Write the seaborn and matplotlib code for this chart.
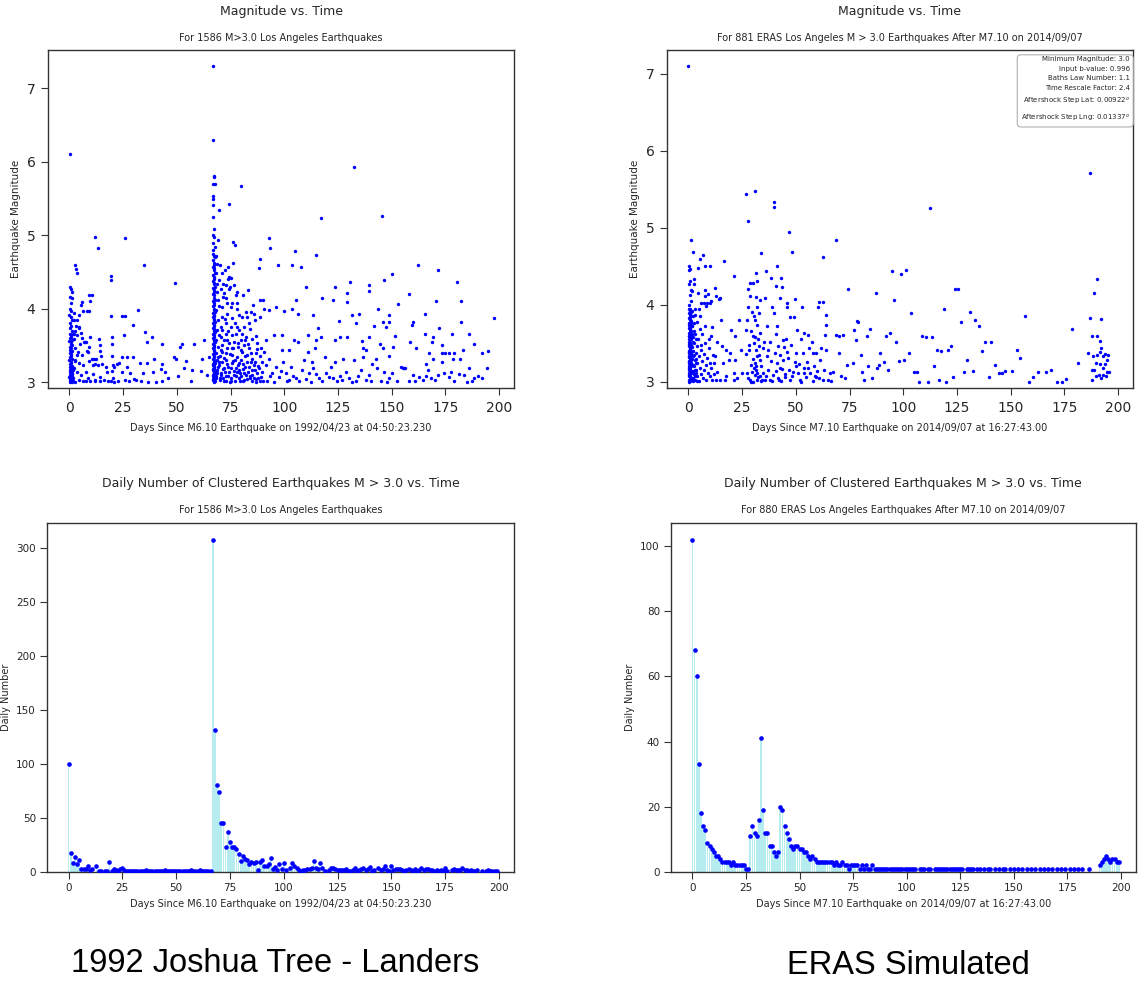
import matplotlib
matplotlib.use("Agg")
import matplotlib.pyplot as plt
import seaborn as sns
import pandas as pd

# ---------------- data ----------------
# Top-left: (days since M6.10, magnitude) for the 1992 Landers sequence
la_day0 = [(0.4, 6.10), (0.1, 4.30), (0.6, 4.27), (1.3, 4.22), (0.2, 4.16), (1.0, 4.14), (0.7, 4.07),
           (0.3, 4.00), (0.9, 3.97), (0.0, 3.92), (0.5, 3.88), (1.1, 3.84), (0.2, 3.80), (0.8, 3.77),
           (0.4, 3.73), (1.2, 3.70), (0.1, 3.66), (0.6, 3.64), (0.9, 3.62), (0.3, 3.60), (1.4, 3.58),
           (0.0, 3.56), (0.7, 3.54), (0.5, 3.52), (1.0, 3.50), (0.2, 3.48), (0.8, 3.46), (0.4, 3.44),
           (1.3, 3.42), (0.1, 3.40), (0.6, 3.38), (0.9, 3.36), (0.3, 3.34), (1.1, 3.32), (0.0, 3.30),
           (0.5, 3.28), (0.8, 3.26), (0.2, 3.24), (1.2, 3.22), (0.4, 3.20), (0.7, 3.19), (1.0, 3.18),
           (0.1, 3.16), (0.6, 3.15), (0.3, 3.14), (0.9, 3.12), (1.4, 3.11), (0.2, 3.10), (0.5, 3.09),
           (0.8, 3.08), (0.0, 3.07), (1.1, 3.06), (0.4, 3.05), (0.7, 3.04), (0.3, 3.03), (1.0, 3.02),
           (0.6, 3.01), (0.1, 3.00), (1.3, 3.00), (0.9, 3.02), (1.5, 3.05), (1.2, 3.08), (1.4, 3.12),
           (1.5, 3.17)]
la_early = [(2.8, 4.60), (3.1, 4.54), (3.6, 4.48), (9.0, 4.18), (10.6, 4.19), (9.6, 4.10), (5.7, 4.09),
            (5.3, 4.05), (6.5, 3.97), (8.1, 3.97), (9.3, 3.97), (2.3, 3.94), (4.3, 3.91), (19.3, 3.90),
            (24.6, 3.90), (25.8, 3.90), (2.3, 3.84), (3.1, 3.77), (4.3, 3.74), (2.6, 3.70), (1.7, 3.66),
            (3.4, 3.64), (5.4, 3.67), (7.0, 3.55), (9.6, 3.61), (13.7, 3.59), (14.1, 3.51), (19.7, 3.62),
            (19.9, 3.52), (25.2, 3.64), (2.2, 3.59), (4.7, 3.52), (2.8, 3.46), (3.9, 3.41), (5.9, 3.37),
            (8.1, 3.43), (11.2, 3.32), (12.4, 3.31), (14.1, 3.42), (14.6, 3.35), (19.9, 3.36), (24.6, 3.34),
            (26.6, 3.34), (29.5, 3.34), (2.5, 3.29), (4.3, 3.26), (6.2, 3.23), (9.3, 3.29), (10.3, 3.31),
            (11.0, 3.23), (12.0, 3.25), (13.4, 3.23), (15.2, 3.24), (17.1, 3.21), (20.2, 3.23), (20.8, 3.21),
            (22.2, 3.25), (22.9, 3.26), (26.6, 3.20), (2.3, 3.19), (3.4, 3.14), (5.4, 3.10), (7.5, 3.14),
            (8.7, 3.05), (10.9, 3.11), (11.7, 3.03), (14.0, 3.07), (16.2, 3.03), (17.6, 3.14), (19.9, 3.15),
            (17.8, 3.01), (20.2, 3.05), (22.6, 3.02), (24.6, 3.14), (25.7, 3.03), (1.6, 3.02), (2.8, 3.00),
            (4.3, 3.03), (6.2, 3.02), (7.8, 3.01), (9.6, 3.02), (11.7, 3.01), (14.0, 3.01), (19.3, 3.02),
            (20.8, 3.00), (12.1, 4.98), (13.2, 4.83), (25.8, 4.96), (19.3, 4.44), (19.3, 4.39), (8.4, 3.41),
            (7.6, 3.54), (6.7, 3.54), (4.4, 3.75), (3.6, 3.84), (5.9, 3.60), (2.0, 3.66), (9.0, 3.48),
            (2.5, 3.30), (3.3, 3.37)]
la_quiet = [(34.8, 4.60), (49.1, 4.35), (31.9, 3.98), (29.7, 3.78), (35.1, 3.68), (38.5, 3.62), (36.2, 3.54),
            (43.2, 3.52), (52.5, 3.52), (51.3, 3.48), (58.1, 3.52), (62.6, 3.58), (48.6, 3.34), (49.4, 3.32),
            (61.8, 3.32), (54.1, 3.29), (53.3, 3.19), (57.2, 3.17), (61.1, 3.15), (56.6, 3.02), (30.1, 3.04),
            (43.0, 3.25), (42.6, 3.18), (43.2, 3.02), (39.5, 3.31), (38.7, 3.14), (36.7, 3.00), (36.1, 3.26),
            (32.8, 3.26), (30.8, 3.03), (40.1, 3.00), (65.0, 3.34), (64.2, 3.10), (34.2, 3.12), (28.4, 3.12),
            (46.0, 3.05), (27.5, 3.02), (33.5, 3.02), (44.5, 3.14), (50.5, 3.08)]
la_main = [(66.8, 7.30), (67.0, 6.30), (67.1, 5.80), (67.3, 5.79), (66.8, 5.69), (67.6, 5.69), (66.9, 5.53),
           (66.8, 5.49), (67.0, 5.41), (66.8, 5.25), (67.2, 5.08), (66.8, 5.00), (67.4, 4.98), (66.8, 4.90),
           (67.6, 4.84), (67.0, 4.80), (66.8, 4.75), (67.3, 4.72), (67.6, 4.70), (66.9, 4.66), (67.2, 4.62),
           (67.5, 4.60), (66.8, 4.57), (67.1, 4.55), (67.4, 4.52), (67.7, 4.48), (66.9, 4.46), (67.2, 4.43),
           (67.5, 4.40), (66.8, 4.38), (67.1, 4.35), (67.4, 4.33), (67.7, 4.30), (66.9, 4.28), (67.2, 4.25),
           (67.5, 4.22), (66.8, 4.20), (67.1, 4.18), (67.4, 4.15), (67.7, 4.12), (66.9, 4.10), (67.2, 4.08),
           (67.5, 4.05), (66.8, 4.03), (67.1, 4.00), (67.4, 3.98), (67.7, 3.96), (66.9, 3.94), (67.2, 3.92),
           (67.5, 3.90), (66.8, 3.88), (67.1, 3.86), (67.4, 3.84), (67.7, 3.82), (66.9, 3.80), (67.2, 3.78),
           (67.5, 3.76), (66.8, 3.74), (67.1, 3.72), (67.4, 3.70), (67.7, 3.68), (66.9, 3.66), (67.2, 3.64),
           (67.5, 3.62), (66.8, 3.60), (67.1, 3.58), (67.4, 3.56), (67.7, 3.54), (66.9, 3.52), (67.2, 3.50),
           (67.5, 3.48), (66.8, 3.46), (67.1, 3.44), (67.4, 3.42), (67.7, 3.40), (66.9, 3.38), (67.2, 3.36),
           (67.5, 3.34), (66.8, 3.32), (67.1, 3.30), (67.4, 3.28), (67.7, 3.26), (66.9, 3.24), (67.2, 3.22),
           (67.5, 3.20), (66.8, 3.18), (67.1, 3.16), (67.4, 3.14), (67.7, 3.12), (66.9, 3.10), (67.2, 3.08),
           (67.5, 3.06), (66.8, 3.04), (67.1, 3.02), (67.4, 3.00), (67.7, 3.01), (66.9, 3.03), (67.2, 3.05),
           (67.5, 3.07), (66.8, 3.09), (67.1, 3.11), (67.4, 3.13), (67.7, 3.15), (66.9, 3.17), (67.2, 3.19),
           (67.5, 3.21), (66.8, 3.23), (67.1, 3.25), (67.4, 3.27), (67.7, 3.29)]
la_after = [(74.1, 5.42), (69.6, 5.34), (69.0, 4.93), (76.3, 4.91), (77.1, 4.87), (80.0, 5.67), (73.7, 4.56),
            (74.3, 4.43), (75.4, 4.42), (76.6, 4.32), (78.2, 4.23), (77.4, 4.18), (74.3, 4.27), (71.2, 4.48),
            (69.6, 4.39), (70.4, 4.27), (71.9, 4.21), (73.5, 4.07), (75.8, 4.07), (78.2, 4.00), (80.5, 3.89),
            (82.0, 3.96), (82.8, 3.89), (84.4, 3.96), (85.9, 3.93), (86.4, 3.84), (83.6, 3.80), (81.3, 3.75),
            (78.9, 3.71), (77.4, 3.66), (75.1, 3.75), (72.7, 3.80), (71.2, 3.71), (69.6, 3.64), (72.0, 3.57),
            (74.3, 3.53), (76.6, 3.55), (79.7, 3.57), (82.0, 3.62), (85.2, 3.59), (87.5, 3.53), (89.0, 3.46),
            (70.4, 3.44), (72.7, 3.39), (75.5, 3.37), (78.2, 3.34), (80.5, 3.41), (82.8, 3.37), (85.2, 3.32),
            (86.7, 3.39), (68.8, 3.30), (71.2, 3.28), (73.5, 3.24), (75.8, 3.26), (78.6, 3.23), (81.0, 3.25),
            (83.6, 3.21), (85.9, 3.23), (88.3, 3.19), (89.8, 3.28), (68.8, 3.16), (70.4, 3.12), (72.0, 3.19),
            (74.3, 3.14), (76.6, 3.10), (78.9, 3.16), (81.3, 3.12), (83.3, 3.14), (85.2, 3.10), (87.5, 3.12),
            (89.0, 3.07), (68.4, 3.05), (69.9, 3.03), (71.5, 3.06), (73.0, 3.02), (75.1, 3.05), (77.1, 3.02),
            (78.9, 3.05), (80.8, 3.01), (82.8, 3.04), (84.8, 3.01), (86.7, 3.04), (88.6, 3.01), (68.1, 3.39),
            (68.1, 3.57), (68.5, 3.71), (69.0, 3.84), (68.4, 3.98), (69.3, 4.12), (68.5, 4.23), (68.8, 4.34),
            (68.4, 4.48), (68.7, 4.61), (68.2, 4.71), (70.7, 3.10), (72.2, 3.14), (73.8, 3.08), (75.4, 3.19),
            (77.9, 3.14), (80.0, 3.08), (82.3, 3.10), (84.1, 3.06), (86.2, 3.16), (88.0, 3.06), (69.6, 3.23),
            (72.7, 3.30), (77.4, 3.19), (79.7, 3.30), (69.3, 3.34), (70.9, 3.50), (73.5, 3.46), (76.1, 3.46),
            (78.6, 3.48), (81.3, 3.50), (83.6, 3.46), (70.4, 3.62), (72.7, 3.66), (75.5, 3.64), (78.2, 3.75),
            (80.5, 3.66), (71.2, 3.89), (73.5, 3.93), (75.8, 3.87), (71.0, 4.02), (72.7, 4.14), (75.1, 4.02),
            (71.6, 4.34), (73.0, 4.32), (74.0, 4.41), (68.3, 3.09), (69.2, 3.20), (70.1, 3.36), (71.8, 3.01),
            (74.8, 3.00), (76.0, 3.29), (79.3, 3.02), (81.9, 3.20), (84.5, 3.27), (87.0, 3.00),
            (68.6, 3.12), (69.4, 3.27), (70.2, 3.05), (70.8, 3.41), (71.4, 3.18), (72.1, 3.33), (72.9, 3.09),
            (73.3, 3.57), (74.0, 3.21), (74.6, 3.38), (75.2, 3.02), (75.9, 3.47), (76.4, 3.15), (77.0, 3.30),
            (77.6, 3.08), (78.3, 3.53), (78.8, 3.26), (79.4, 3.12), (80.1, 3.44), (80.7, 3.18), (81.2, 3.03),
            (81.8, 3.36), (82.5, 3.27), (83.0, 3.52), (83.9, 3.09), (84.6, 3.40), (85.0, 3.17), (85.7, 3.06),
            (86.5, 3.28), (87.2, 3.45), (87.8, 3.22), (88.8, 3.35), (89.5, 3.14), (90.2, 3.02), (90.8, 3.41),
            (91.5, 3.57), (69.1, 3.48), (70.6, 3.75), (72.3, 3.86), (73.9, 3.70), (76.9, 3.80), (79.1, 3.92),
            (81.6, 3.58), (84.0, 3.72), (86.9, 3.63), (88.9, 3.88), (69.8, 4.04), (71.7, 4.16), (74.9, 4.30),
            (77.8, 4.07), (80.9, 4.18), (83.2, 4.25), (85.6, 4.05), (70.0, 4.60), (72.4, 4.52), (76.2, 4.62)]
la_late = [(88.6, 4.68), (88.3, 4.55), (92.9, 4.96), (93.4, 4.83), (105.2, 4.79), (114.7, 4.73), (97.0, 4.60),
           (103.7, 4.60), (107.8, 4.57), (117.0, 5.23), (132.6, 5.93), (145.5, 5.26), (162.5, 4.59),
           (171.7, 4.52), (150.1, 4.47), (146.5, 4.39), (130.5, 4.36), (180.3, 4.36), (110.3, 4.30),
           (123.7, 4.29), (139.5, 4.32), (139.5, 4.24), (129.4, 4.21), (129.1, 4.09), (157.9, 4.20),
           (170.9, 4.10), (182.3, 4.10), (153.1, 4.06), (197.8, 3.87), (96.0, 4.02), (103.8, 4.00),
           (105.4, 4.12), (117.5, 4.14), (122.5, 4.12), (88.6, 4.12), (90.1, 4.12), (90.6, 4.00), (93.0, 3.98),
           (99.9, 3.97), (106.4, 3.93), (113.6, 3.91), (131.5, 3.91), (134.9, 3.93), (143.6, 4.00),
           (148.6, 3.91), (165.5, 3.93), (182.3, 3.82), (145.8, 3.82), (148.6, 3.82), (147.3, 3.75),
           (159.8, 3.82), (159.3, 3.78), (172.2, 3.73), (115.5, 3.73), (125.6, 3.83), (133.3, 3.80),
           (141.9, 3.76), (165.7, 3.66), (178.1, 3.66), (186.2, 3.65), (111.3, 3.64), (117.0, 3.62),
           (126.0, 3.62), (129.4, 3.62), (139.5, 3.62), (151.5, 3.63), (169.1, 3.62), (95.4, 3.64),
           (99.1, 3.64), (104.6, 3.57), (106.2, 3.55), (114.7, 3.58), (123.7, 3.57), (136.1, 3.56),
           (144.7, 3.52), (158.7, 3.55), (168.8, 3.55), (173.3, 3.50), (188.5, 3.52), (99.1, 3.44),
           (102.3, 3.44), (111.1, 3.41), (114.4, 3.46), (119.0, 3.34), (123.7, 3.28), (127.4, 3.31),
           (132.6, 3.30), (136.8, 3.46), (138.0, 3.44), (145.8, 3.46), (149.0, 3.35), (150.7, 3.48),
           (161.3, 3.47), (167.5, 3.39), (173.7, 3.40), (175.0, 3.39), (176.8, 3.39), (183.1, 3.44),
           (191.9, 3.39), (194.7, 3.42), (181.9, 3.32), (178.4, 3.31), (169.1, 3.31), (165.9, 3.25),
           (155.9, 3.19), (154.3, 3.21), (142.7, 3.32), (141.1, 3.24), (136.5, 3.34), (113.1, 3.28),
           (109.2, 3.30), (103.0, 3.21), (99.6, 3.27), (96.0, 3.21), (92.9, 3.32), (91.4, 3.23), (94.5, 3.12),
           (97.6, 3.07), (100.7, 3.12), (102.3, 3.03), (105.4, 3.05), (108.5, 3.16), (111.6, 3.12),
           (113.4, 3.19), (116.2, 3.05), (117.8, 3.01), (120.9, 3.07), (122.5, 3.05), (124.8, 3.01),
           (127.1, 3.03), (130.2, 3.05), (133.3, 3.02), (135.7, 3.16), (139.5, 3.10), (140.3, 3.01),
           (143.4, 3.19), (145.0, 3.02), (146.5, 3.14), (148.9, 3.05), (152.3, 3.02), (155.1, 3.19),
           (156.3, 3.19), (158.2, 3.02), (159.8, 3.10), (162.9, 3.07), (164.4, 3.03), (167.1, 3.16),
           (168.3, 3.05), (171.5, 3.10), (173.7, 3.28), (174.5, 3.12), (176.8, 3.07), (179.2, 3.02),
           (181.6, 3.11), (183.8, 3.10), (185.1, 3.00), (186.2, 3.19), (188.5, 3.05), (192.1, 3.05),
           (194.4, 3.19), (179.2, 3.39), (91.8, 3.02), (93.6, 3.09), (95.1, 3.00), (98.4, 3.15),
           (101.5, 3.01), (104.1, 3.09), (107.0, 3.02), (110.0, 3.04), (112.4, 3.00), (115.0, 3.11),
           (119.5, 3.13), (121.8, 3.21), (126.0, 3.09), (128.6, 3.14), (131.7, 3.00), (134.4, 3.08),
           (137.9, 3.03), (147.7, 3.00), (150.0, 3.12), (161.0, 3.01), (166.0, 3.08), (170.2, 3.03),
           (177.5, 3.14), (187.3, 3.01), (190.3, 3.09)]

# Top-right: (days since M7.10, magnitude) for the ERAS simulated catalog
eras_day0 = [(0.0, 7.10), (1.4, 4.84), (2.0, 4.68), (0.3, 4.51), (0.2, 4.45), (0.9, 4.47), (0.5, 4.31),
             (0.2, 4.27), (1.0, 4.19), (0.6, 4.13), (1.4, 4.05), (0.3, 4.00), (0.1, 3.95), (0.7, 3.92),
             (0.4, 3.89), (0.9, 3.86), (0.2, 3.83), (0.6, 3.80), (1.1, 3.77), (0.3, 3.74), (0.8, 3.72),
             (0.1, 3.70), (0.5, 3.68), (1.2, 3.66), (0.2, 3.64), (0.7, 3.62), (0.4, 3.60), (1.0, 3.58),
             (0.1, 3.56), (0.6, 3.54), (0.3, 3.52), (0.9, 3.50), (1.3, 3.48), (0.2, 3.46), (0.5, 3.44),
             (0.8, 3.42), (0.1, 3.40), (0.4, 3.38), (1.1, 3.36), (0.7, 3.34), (0.2, 3.32), (0.5, 3.30),
             (0.9, 3.28), (0.3, 3.26), (1.2, 3.24), (0.6, 3.22), (0.1, 3.20), (0.4, 3.18), (0.8, 3.16),
             (1.0, 3.14), (0.2, 3.12), (0.6, 3.10), (0.3, 3.08), (0.9, 3.06), (1.3, 3.04), (0.5, 3.02),
             (0.1, 3.00), (0.7, 3.01), (0.4, 3.03), (1.1, 3.05), (0.8, 3.07), (0.2, 3.09), (0.6, 3.11),
             (1.4, 3.13), (0.3, 3.15), (0.9, 3.17), (0.5, 3.19), (1.2, 3.21), (0.7, 3.23), (0.1, 3.25),
             (0.4, 3.27), (1.0, 3.29), (0.8, 3.31), (0.3, 3.33), (0.6, 3.35), (1.3, 3.37), (0.2, 3.39),
             (0.9, 3.41), (0.5, 3.43), (1.1, 3.45), (0.7, 3.47), (0.4, 3.49), (1.4, 3.55), (0.8, 3.57),
             (0.3, 3.59), (1.2, 3.61), (0.6, 3.63), (0.9, 3.67), (0.5, 3.71), (1.5, 3.73), (0.4, 3.76),
             (1.0, 3.79), (0.7, 3.82), (1.3, 3.85), (0.6, 3.88), (1.1, 3.91), (0.8, 3.94),
             (1.6, 3.05), (1.7, 3.30), (1.9, 3.52), (2.1, 3.01), (2.2, 3.40), (2.4, 3.10), (2.5, 3.77),
             (2.6, 3.02), (2.8, 3.35), (3.0, 3.16), (3.2, 3.07), (3.4, 3.25), (3.6, 3.55), (3.9, 3.01),
             (2.9, 3.87), (1.5, 3.92), (1.7, 3.62), (2.3, 3.22), (2.0, 3.34), (3.7, 3.12)]
eras_early = [(2.0, 3.05), (2.3, 3.12), (2.6, 3.20), (2.9, 3.28), (3.1, 3.02), (3.3, 3.38), (3.5, 3.15),
              (3.8, 3.46), (4.0, 3.08), (4.2, 3.24), (4.5, 3.55), (4.8, 3.33), (5.0, 3.01), (5.3, 3.18),
              (5.6, 3.42), (5.9, 3.10), (6.2, 3.27), (6.5, 3.62), (6.8, 3.05), (7.1, 3.36), (7.4, 3.15),
              (7.7, 3.50), (8.0, 3.22), (8.3, 3.03), (8.7, 3.31), (9.0, 3.12), (9.4, 3.44), (9.8, 3.07),
              (10.2, 3.25), (10.6, 3.18), (11.0, 3.03), (11.5, 3.35), (12.0, 3.10), (1.8, 3.72), (2.2, 3.85),
              (3.0, 3.95), (4.0, 3.78), (5.5, 3.68), (7.5, 3.72), (8.0, 3.98), (9.5, 3.55), (2.5, 4.33),
              (4.5, 4.15), (6.0, 4.02), (9.0, 4.14), (10.5, 4.05), (1.5, 4.18), (2.7, 4.27), (5.4, 4.60),
              (6.9, 4.65), (4.3, 4.48), (7.9, 4.50), (10.0, 4.50), (16.4, 4.57), (7.6, 4.19), (7.9, 4.12),
              (12.5, 4.22), (13.0, 4.12), (14.2, 4.08), (14.5, 4.09), (8.6, 4.03), (10.0, 4.03), (4.8, 3.95),
              (7.1, 4.02), (1.8, 3.45), (2.1, 3.58), (2.4, 3.66), (1.6, 3.22), (1.9, 3.14), (2.7, 3.50),
              (3.2, 3.62), (3.6, 3.30), (11.0, 3.71), (10.3, 3.59), (12.5, 3.33), (11.7, 3.24), (13.3, 3.13),
              (15.4, 3.46), (16.0, 3.24), (17.4, 3.41), (17.7, 3.07), (18.7, 3.28), (19.4, 3.37), (19.9, 3.67),
              (21.0, 3.11), (21.8, 3.59), (22.5, 3.05), (23.6, 3.80), (24.4, 3.41), (25.0, 3.11), (21.0, 3.03),
              (14.8, 3.03), (17.1, 3.02), (21.8, 3.28), (21.3, 4.37), (13.5, 3.52), (15.0, 3.80), (12.8, 3.02),
              (6.0, 3.48), (5.2, 3.85)]
eras_burst = [(26.9, 5.44), (31.0, 5.48), (27.9, 5.09), (40.0, 5.33), (40.0, 5.27), (46.9, 4.95), (33.8, 4.67),
              (48.0, 4.69), (41.0, 4.51), (36.1, 4.44), (31.3, 4.42), (38.4, 4.35), (43.0, 4.35), (28.5, 4.29),
              (29.9, 4.29), (32.1, 4.31), (27.9, 4.21), (40.9, 4.25), (43.7, 4.23), (28.5, 4.12), (31.5, 4.10),
              (33.3, 4.06), (35.6, 4.09), (42.6, 4.09), (45.7, 4.02), (49.5, 4.08), (27.9, 3.97), (29.5, 3.91),
              (32.1, 3.97), (32.9, 3.90), (38.7, 3.97), (39.8, 3.90), (46.0, 3.97), (47.2, 3.84), (49.1, 3.84),
              (52.9, 3.97), (31.0, 3.80), (31.8, 3.74), (36.4, 3.72), (41.0, 3.72), (33.3, 3.63), (26.9, 3.67),
              (29.9, 3.59), (30.7, 3.50), (31.5, 3.41), (31.8, 3.33), (30.9, 3.24), (31.6, 3.16), (31.0, 3.09),
              (31.8, 3.03), (27.2, 3.11), (27.9, 3.05), (28.7, 3.02), (29.5, 3.13), (33.3, 3.07), (34.9, 3.11),
              (35.6, 3.03), (37.2, 3.16), (39.5, 3.09), (41.0, 3.24), (41.8, 3.05), (42.6, 3.18), (40.3, 3.37),
              (38.0, 3.52), (44.1, 3.54), (45.4, 3.56), (34.9, 3.44), (36.7, 3.33), (42.6, 3.35), (43.8, 3.28),
              (33.3, 3.28), (45.7, 3.39), (46.9, 3.16), (48.0, 3.07), (49.5, 3.26), (51.1, 3.11), (51.9, 3.03),
              (53.7, 3.18), (55.0, 3.26), (53.4, 3.37), (50.6, 3.67), (53.7, 3.63), (55.7, 3.61), (57.3, 3.52),
              (58.0, 3.37), (59.6, 3.37), (60.3, 3.97), (61.0, 4.04), (62.6, 4.04), (63.9, 3.87), (64.2, 3.74),
              (63.7, 3.61), (64.2, 3.41), (61.9, 3.44), (55.7, 3.18), (56.5, 3.11), (58.8, 3.07), (60.8, 3.05),
              (62.6, 3.03), (65.7, 3.11), (27.0, 3.36), (28.2, 3.48), (29.0, 3.22), (30.2, 3.00), (32.5, 3.55),
              (33.9, 3.01), (37.8, 3.02), (40.6, 3.14), (43.2, 3.01), (44.8, 3.10), (47.5, 3.02), (50.0, 3.20),
              (52.3, 3.00), (54.6, 3.06), (57.9, 3.01), (60.0, 3.14), (62.6, 4.62), (27.4, 3.80), (30.4, 3.86),
              (28.0, 3.42), (29.3, 3.66), (30.5, 3.18), (31.2, 3.58), (32.0, 3.12), (32.7, 3.46), (33.6, 3.21),
              (34.4, 3.02), (35.2, 3.52), (36.0, 3.08), (37.0, 3.42), (38.3, 3.27), (39.1, 3.01), (40.8, 3.62),
              (41.5, 3.46), (42.2, 3.02), (43.5, 3.17), (44.3, 3.45), (45.0, 3.06), (46.3, 3.31), (47.9, 3.48),
              (48.7, 3.13), (49.9, 3.38), (51.5, 3.23), (52.6, 3.55), (54.0, 3.12), (56.2, 3.44), (58.4, 3.21),
              (59.3, 3.06), (61.4, 3.29), (63.1, 3.15), (64.8, 3.02), (29.0, 3.00), (30.0, 3.30), (31.4, 3.20),
              (32.4, 3.06), (33.0, 3.35)]
eras_late = [(66.5, 3.01), (67.3, 3.13), (68.7, 4.84), (68.8, 3.61), (70.0, 3.59), (71.9, 3.61), (70.0, 3.37),
             (71.1, 3.07), (72.7, 3.05), (73.9, 3.22), (76.5, 3.24), (77.3, 3.67), (78.5, 3.79), (79.0, 3.78),
             (77.8, 3.54), (80.2, 3.35), (80.9, 3.13), (81.9, 3.02), (83.2, 3.60), (84.7, 3.69), (83.8, 3.20),
             (85.5, 3.05), (87.8, 3.18), (88.9, 3.22), (89.0, 3.38), (90.9, 3.26), (92.0, 3.60), (92.9, 3.16),
             (93.7, 3.63), (96.8, 3.52), (98.1, 3.27), (100.2, 3.28), (102.5, 3.37), (105.0, 3.13),
             (106.3, 3.13), (107.4, 3.00), (108.8, 3.60), (110.5, 3.58), (113.6, 3.58), (111.7, 3.00),
             (114.5, 3.20), (115.6, 3.42), (117.4, 3.40), (116.7, 3.03), (119.8, 3.00), (121.0, 3.42),
             (122.2, 3.47), (123.1, 3.06), (112.5, 5.26), (124.2, 4.21), (125.6, 4.21), (74.2, 4.20),
             (87.5, 4.15), (95.8, 4.06), (103.5, 3.90), (118.8, 3.94), (131.0, 3.91), (127.0, 3.78),
             (133.5, 3.80), (135.2, 3.73), (156.5, 3.85), (178.4, 3.69), (94.6, 4.44), (99.1, 4.40),
             (101.1, 4.45), (181.2, 3.25), (152.9, 3.42), (154.5, 3.31), (158.5, 3.00), (160.6, 3.06),
             (162.8, 3.13), (166.7, 3.13), (169.0, 3.16), (171.5, 3.00), (173.8, 3.00), (176.0, 3.04),
             (139.8, 3.06), (142.6, 3.22), (144.4, 3.11), (146.0, 3.12), (147.5, 3.14), (150.6, 3.14),
             (138.0, 3.52), (141.0, 3.52), (136.7, 3.40), (129.6, 3.28), (128.4, 3.13), (132.3, 3.14)]
eras_end = [(187.2, 5.71), (190.1, 4.34), (189.0, 4.16), (187.2, 3.83), (192.1, 3.81), (187.7, 3.60),
            (190.4, 3.60), (191.5, 3.53), (192.3, 3.44), (191.5, 3.39), (186.1, 3.37), (188.4, 3.33),
            (193.8, 3.36), (195.4, 3.35), (193.1, 3.33), (189.7, 3.24), (191.5, 3.23), (194.0, 3.23),
            (187.7, 3.16), (188.9, 3.16), (194.8, 3.13), (193.2, 3.09), (195.7, 3.13), (188.1, 3.02),
            (190.0, 3.07), (191.0, 3.09), (192.3, 3.05), (194.3, 3.07), (195.0, 3.28), (193.0, 3.18),
            (190.4, 3.35)]

# Daily counts, days 0..199
la_daily = [100, 18, 8, 14, 7, 11, 3, 3, 3, 6,
            2, 3, 0, 6, 1, 1, 0, 1, 1, 9,
            1, 3, 2, 1, 3, 4, 2, 1, 1, 1,
            1, 1, 1, 1, 1, 1, 2, 1, 1, 1,
            1, 1, 1, 1, 1, 2, 1, 1, 1, 1,
            1, 1, 1, 1, 1, 1, 1, 2, 1, 1,
            1, 2, 1, 1, 1, 1, 1, 308, 132, 81,
            74, 45, 45, 23, 37, 28, 23, 23, 21, 17,
            10, 15, 12, 11, 7, 9, 8, 9, 2, 9,
            11, 6, 6, 7, 13, 3, 5, 2, 7, 3,
            8, 2, 0, 4, 8, 6, 4, 2, 1, 2,
            2, 3, 3, 4, 10, 4, 3, 8, 4, 1,
            0, 2, 4, 4, 3, 2, 2, 2, 2, 3,
            1, 1, 2, 4, 1, 2, 3, 4, 2, 3,
            5, 1, 2, 0, 4, 2, 3, 6, 2, 1,
            6, 2, 3, 3, 3, 2, 1, 2, 3, 2,
            1, 3, 1, 2, 4, 2, 3, 3, 2, 2,
            1, 2, 1, 2, 1, 4, 1, 0, 2, 3,
            2, 2, 2, 4, 2, 2, 1, 2, 1, 1,
            2, 0, 1, 0, 1, 2, 1, 1, 1, 1]
eras_daily = [102, 68, 60, 33, 18, 14, 13, 9, 8, 7,
              6, 5, 5, 4, 3, 3, 3, 3, 2, 3,
              2, 2, 2, 2, 2, 1, 1, 11, 14, 12,
              11, 16, 41, 19, 12, 12, 8, 8, 6, 5,
              6, 20, 19, 14, 12, 10, 8, 7, 8, 8,
              7, 7, 6, 6, 5, 4, 5, 4, 3, 3,
              3, 3, 3, 3, 3, 3, 2, 3, 2, 2,
              3, 2, 2, 1, 2, 2, 2, 2, 1, 2,
              1, 2, 1, 1, 2, 1, 1, 1, 1, 1,
              1, 1, 1, 1, 1, 1, 1, 1, 1, 1,
              1, 1, 1, 1, 1, 0, 1, 1, 1, 0,
              1, 1, 0, 1, 1, 1, 1, 1, 1, 1,
              1, 1, 1, 1, 1, 1, 1, 0, 1, 1,
              1, 1, 0, 1, 1, 0, 1, 0, 1, 1,
              0, 1, 0, 1, 0, 1, 1, 0, 1, 0,
              1, 0, 1, 0, 1, 0, 1, 0, 1, 0,
              1, 0, 1, 0, 1, 0, 1, 0, 1, 0,
              1, 0, 1, 0, 1, 0, 1, 0, 1, 0,
              1, 0, 1, 0, 0, 1, 0, 0, 0, 0,
              2, 3, 4, 5, 4, 3, 4, 4, 3, 3]

params_lines = ["Minimum Magnitude: 3.0", "Input b-value: 0.996", "Baths Law Number: 1.1",
                "Time Rescale Factor: 2.4", "Aftershock Step Lat: 0.00922$^o$",
                "Aftershock Step Lng: 0.01337$^o$"]
day_ticks = [0, 25, 50, 75, 100, 125, 150, 175, 200]

# ---------------- figure ----------------
sns.set_style("ticks")
plt.rcParams["font.family"] = ["DejaVu Sans"]
plt.rcParams["axes.edgecolor"] = "#333333"
plt.rcParams["axes.linewidth"] = 1.0

W, H = 1143, 993
fig = plt.figure(figsize=(W / 100, H / 100), dpi=100)


def rect(left, top, right, bottom):
    return [left / W, 1 - bottom / H, (right - left) / W, (bottom - top) / H]


ax_tl = fig.add_axes(rect(48, 50, 514, 388))
ax_tr = fig.add_axes(rect(667, 50, 1133, 388))
ax_bl = fig.add_axes(rect(47, 523, 514, 872))
ax_br = fig.add_axes(rect(671, 523, 1136, 872))

la_df = pd.DataFrame(la_day0 + la_early + la_quiet + la_main + la_after + la_late, columns=["days", "mag"])
eras_df = pd.DataFrame(eras_day0 + eras_early + eras_burst + eras_late + eras_end, columns=["days", "mag"])

for ax, df, ylim in [(ax_tl, la_df, (2.92, 7.52)), (ax_tr, eras_df, (2.92, 7.31))]:
    sns.scatterplot(data=df, x="days", y="mag", ax=ax, s=6, color="blue", linewidth=0)
    ax.set_ylim(*ylim)
    ax.set_yticks([3, 4, 5, 6, 7])
    ax.set_ylabel("Earthquake Magnitude", fontsize=7.5, labelpad=4)
    ax.tick_params(labelsize=10, length=5, pad=4)

for ax, counts, ymax, yticks in [(ax_bl, la_daily, 323.4, range(0, 301, 50)),
                                 (ax_br, eras_daily, 107.1, range(0, 101, 20))]:
    df = pd.DataFrame({"day": list(range(len(counts))), "n": counts})
    sns.barplot(data=df, x="day", y="n", ax=ax, native_scale=True, color="#b4ecf0",
                saturation=1, width=0.8, errorbar=None, linewidth=0, edgecolor="none")
    nz = df[df["n"] > 0]
    sns.scatterplot(data=nz, x="day", y="n", ax=ax, s=11, color="blue", linewidth=0, zorder=3)
    ax.set_ylim(0, ymax)
    ax.set_yticks(list(yticks))
    ax.set_ylabel("Daily Number", fontsize=7)
    ax.tick_params(labelsize=7.5, length=5, pad=3)

for ax in (ax_tl, ax_tr, ax_bl, ax_br):
    ax.set_xlim(-10, 207)
    ax.set_xticks(day_ticks)
    ax.tick_params(width=0.8, color="#333333")

ax_tl.set_xlabel("Days Since M6.10 Earthquake on 1992/04/23 at 04:50:23.230", fontsize=7, labelpad=6)
ax_tr.set_xlabel("Days Since M7.10 Earthquake on 2014/09/07 at 16:27:43.00", fontsize=7, labelpad=6)
ax_bl.set_xlabel("Days Since M6.10 Earthquake on 1992/04/23 at 04:50:23.230", fontsize=7, labelpad=4)
ax_br.set_xlabel("Days Since M7.10 Earthquake on 2014/09/07 at 16:27:43.00", fontsize=7, labelpad=4)

ax_tr.text(0.993, 0.982, "\n".join(params_lines), transform=ax_tr.transAxes, ha="right", va="top",
           fontsize=5, multialignment="right", linespacing=1.7,
           bbox=dict(boxstyle="round,pad=0.5", fc="white", ec="#b0b0b0", lw=0.8))


# titles and captions
def ftext(x, y, s, **kw):
    fig.text(x / W, 1 - y / H, s, ha="center", va="center", **kw)


ftext(281, 12, "Magnitude vs. Time", fontsize=9)
ftext(281, 38, "For 1586 M>3.0 Los Angeles Earthquakes", fontsize=7)
ftext(900, 12, "Magnitude vs. Time", fontsize=9)
ftext(900, 38, "For 881 ERAS Los Angeles M > 3.0 Earthquakes After M7.10 on 2014/09/07", fontsize=7)
ftext(281, 483, "Daily Number of Clustered Earthquakes M > 3.0 vs. Time", fontsize=9)
ftext(281, 510, "For 1586 M>3.0 Los Angeles Earthquakes", fontsize=7)
ftext(903, 483, "Daily Number of Clustered Earthquakes M > 3.0 vs. Time", fontsize=9)
ftext(903, 510, "For 880 ERAS Los Angeles Earthquakes After M7.10 on 2014/09/07", fontsize=7)

cap_font = ["Liberation Sans", "DejaVu Sans"]
ftext(275, 963, "1992 Joshua Tree - Landers", fontsize=23.5, family=cap_font, color="black")
ftext(908, 966, "ERAS Simulated", fontsize=23.5, family=cap_font, color="black")

fig.savefig("out.png", dpi=100)
